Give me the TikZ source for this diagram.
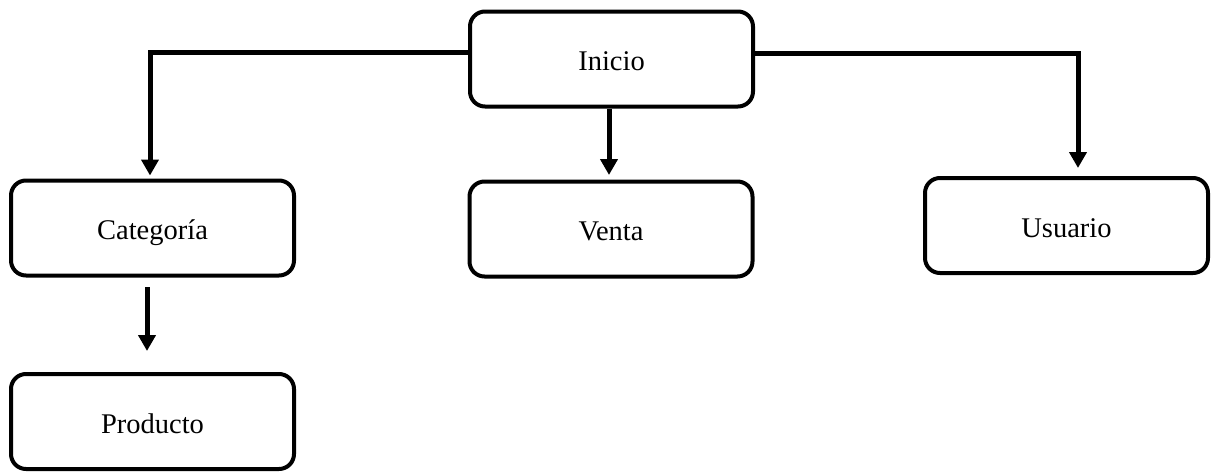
\documentclass[tikz,border=0pt]{standalone}
\usepackage{fontspec}
\setmainfont{Liberation Serif}
\usetikzlibrary{arrows.meta,calc}
\begin{document}
\begin{tikzpicture}[x=1pt,y=-1pt,
  box/.style={draw=black, line width=4pt, rounded corners=15pt,
    minimum width=283pt, minimum height=95pt, inner sep=0pt,
    text height=23pt, text depth=0pt,
    font=\fontsize{28.5}{34}\selectfont},
  link/.style={line width=5pt, -{Triangle[width=17pt,length=16pt]}}]
\useasboundingbox (0,0) rectangle (1213,472);

% boxes
\node[box] (ini) at (611.5,59)  {Inicio};
\node[box] (cat) at (152.5,228) {Categoría};
\node[box] (ven) at (611,229)   {Venta};
\node[box] (usu) at (1066.5,225.5) {Usuario};
\node[box] (pro) at (152.5,421.5) {Producto};

% connectors
\draw[link] ($(ini.west)+(0,-7)$) -| ($(cat.north)+(-2.5,-3)$);
\draw[link] ($(ini.east)+(0,-6)$) -| ($(usu.north)+(11.5,-8)$);
\draw[link] ($(ini.south)+(-2.5,0)$) -- ($(ven.north)+(-2,-4.5)$);
\draw[link] ($(cat.south)+(-5.5,9.5)$) -- ($(pro.north)+(-5.5,-21)$);
\end{tikzpicture}
\end{document}
